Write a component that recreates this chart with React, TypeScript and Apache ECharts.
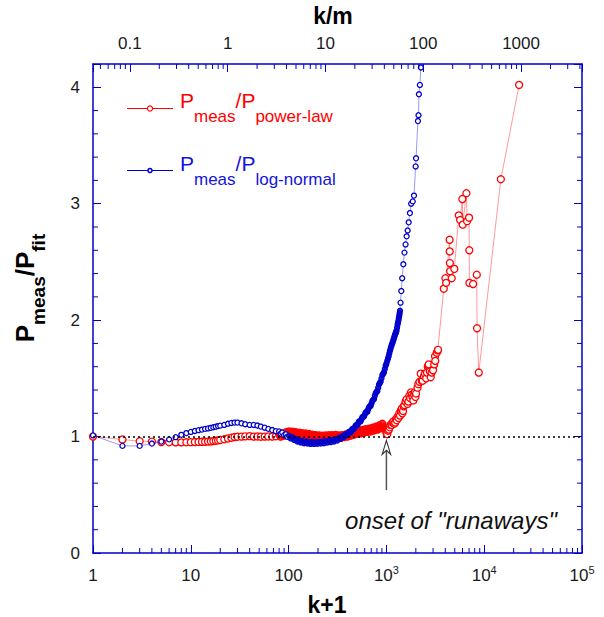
import React, { useEffect, useRef } from 'react';
import * as echarts from 'echarts';

const FONT = '"Liberation Sans", Arial, sans-serif';
const AXIS_BLUE = '#0000CC';
const RED = '#FF0000';
const BLUE = '#0000CC';
const TEXT_DARK = '#1a1a1a';

// Axis ranges
const X_MIN = 1;
const X_MAX = 100000;
const TOP_MIN = 0.042;
const TOP_MAX = 4200;
const Y_MIN = 0;
const Y_MAX = 4.2;

// Tick labels
const xTickValues = [1, 10, 100, 1000, 10000, 100000];
const xTickLabels = ['1', '10', '100', '10^3', '10^4', '10^5'];
const topTickValues = [0.1, 1, 10, 100, 1000];
const topTickLabels = ['0.1', '1', '10', '100', '1000'];
const yTickValues = [0, 1, 2, 3, 4];
const yTickLabels = ['0', '1', '2', '3', '4'];
const minorMultipliers = [2, 3, 4, 5, 6, 7, 8, 9];
const bottomDecades = [1, 10, 100, 1000, 10000];
const topDecades = [0.01, 0.1, 1, 10, 100, 1000];
const yMinorTicks = [0.2, 0.4, 0.6, 0.8, 1.2, 1.4, 1.6, 1.8, 2.2, 2.4, 2.6, 2.8, 3.2, 3.4, 3.6, 3.8];

// Reference line and annotation
const baselineRatio = 1;
const onsetK = 1000;
const arrowFrom = 0.54;
const arrowTo = 0.968;

// Ranges where the measured points are so dense that they merge into a solid band
const redDenseRange = [80, 1000];
const blueDenseRange = [100, 1380];

// P_meas / P_power-law  : [k+1, ratio]
const redPoints: [number, number][] = [
  [1, 1.0], [2, 0.975], [3, 0.96], [4, 0.957], [5, 0.953], [6, 0.951], [7, 0.95], [8, 0.95], [9, 0.951],
  [10, 0.952], [11, 0.953], [12, 0.954], [13, 0.955], [14, 0.956], [15, 0.957], [16, 0.959], [17, 0.961],
  [18, 0.964], [19, 0.967], [20, 0.971], [22, 0.977], [24, 0.984], [26, 0.99], [28, 0.996], [30, 0.999],
  [33, 1.0], [36, 1.002], [40, 1.004], [44, 1.0], [48, 1.001], [52, 0.999], [57, 1.0], [62, 1.001],
  [68, 1.0], [74, 1.003],
  [80, 1.018], [83, 1.0], [86, 1.027], [90, 1.008], [94, 1.037], [97, 1.016], [101, 1.044], [105, 1.022],
  [109, 1.042], [114, 1.018], [118, 1.038], [123, 1.014], [128, 1.034], [133, 1.01], [138, 1.03],
  [144, 1.006], [150, 1.026], [156, 1.003], [162, 1.022], [168, 0.998], [175, 1.016], [182, 0.994],
  [189, 1.012], [197, 0.99], [205, 1.01], [213, 0.988], [221, 1.008], [230, 0.988], [239, 1.01],
  [249, 0.99], [259, 1.012], [269, 0.99], [280, 1.012], [291, 0.992], [303, 1.014], [315, 0.992],
  [328, 1.01], [341, 0.99], [354, 1.012], [368, 0.995], [383, 1.018], [399, 1.0], [415, 1.024],
  [431, 1.008], [448, 1.032], [466, 1.016], [485, 1.048], [504, 1.024], [525, 1.052], [546, 1.028],
  [567, 1.058], [590, 1.034], [614, 1.064], [638, 1.04], [664, 1.068], [690, 1.044], [718, 1.076],
  [747, 1.052], [777, 1.084], [808, 1.06], [840, 1.095], [874, 1.07], [909, 1.11], [945, 1.08],
  [983, 1.06], [1000, 1.03], [1021, 1.02], [1040, 1.05], [1060, 1.06], [1080, 1.08], [1100, 1.1],
  [1132, 1.1], [1155, 1.12], [1180, 1.13], [1205, 1.11], [1230, 1.12], [1255, 1.15], [1275, 1.14],
  [1300, 1.17], [1330, 1.16], [1355, 1.2], [1377, 1.18], [1405, 1.22], [1435, 1.24], [1455, 1.2],
  [1480, 1.22], [1505, 1.26], [1530, 1.27], [1570, 1.3], [1610, 1.32], [1645, 1.28], [1680, 1.3],
  [1715, 1.35], [1750, 1.33], [1785, 1.38], [1820, 1.36], [1850, 1.34], [1885, 1.31], [1915, 1.36],
  [1950, 1.38], [1980, 1.34], [2010, 1.37], [2080, 1.42], [2120, 1.45], [2180, 1.47], [2245, 1.54],
  [2300, 1.48], [2350, 1.48], [2420, 1.52], [2480, 1.54], [2550, 1.5], [2600, 1.55], [2650, 1.6],
  [2690, 1.61], [2710, 1.62], [2780, 1.56], [2840, 1.51], [2900, 1.55], [2980, 1.57], [3000, 1.57],
  [3080, 1.62], [3140, 1.69], [3160, 1.65], [3270, 1.72], [3350, 1.74], [3375, 1.745], [3860, 2.27],
  [4010, 2.36], [4080, 2.32], [4430, 2.69], [4440, 2.59], [4455, 2.49], [4480, 2.42], [4660, 2.36],
  [4950, 2.44], [5495, 2.9], [5670, 2.86], [5980, 3.04], [6030, 2.82], [6580, 3.09], [6680, 2.85],
  [7000, 2.88], [7040, 2.6], [7060, 2.32], [7700, 2.31], [8400, 2.39], [8450, 1.93], [8800, 1.55],
  [14800, 3.21], [22750, 4.02],
];

// P_meas / P_log-normal : [k+1, ratio]
const bluePoints: [number, number][] = [
  [1, 1.01], [2, 0.92], [3, 0.92], [4, 0.94], [5, 0.957], [6, 0.976], [7, 0.995], [8, 1.015], [9, 1.03],
  [10, 1.04], [11, 1.048], [12, 1.055], [13, 1.06], [14, 1.066], [15, 1.07], [16, 1.075], [17, 1.08],
  [18, 1.085], [19, 1.09], [20, 1.094], [22, 1.1], [24, 1.11], [26, 1.117], [28, 1.12], [30, 1.12],
  [33, 1.114], [36, 1.106], [40, 1.1], [44, 1.1], [48, 1.095], [52, 1.086], [57, 1.076], [62, 1.066],
  [68, 1.056], [74, 1.046],
  [80, 1.044], [83, 1.026], [86, 1.034], [90, 1.012], [94, 1.02], [97, 0.998], [101, 1.006], [105, 0.984],
  [109, 0.994], [114, 0.97], [118, 0.98], [123, 0.958], [128, 0.968], [133, 0.949], [138, 0.962],
  [144, 0.943], [150, 0.958], [156, 0.94], [162, 0.955], [168, 0.937], [175, 0.953], [182, 0.937],
  [189, 0.952], [197, 0.938], [205, 0.954], [213, 0.94], [221, 0.957], [230, 0.943], [239, 0.961],
  [249, 0.948], [259, 0.966], [269, 0.952], [280, 0.971], [291, 0.958], [303, 0.978], [315, 0.966],
  [328, 0.99], [341, 0.98], [354, 1.003], [368, 0.996], [383, 1.02], [399, 1.014], [407, 1.03],
  [415, 1.041], [423, 1.04], [431, 1.037], [440, 1.05], [448, 1.066], [457, 1.066], [466, 1.064],
  [476, 1.08], [485, 1.096], [495, 1.098], [504, 1.097], [515, 1.115], [525, 1.13], [536, 1.13],
  [546, 1.132], [557, 1.15], [567, 1.166], [579, 1.17], [590, 1.172], [602, 1.19], [614, 1.208],
  [626, 1.213], [638, 1.212], [651, 1.235], [664, 1.253], [677, 1.26], [690, 1.262], [704, 1.285],
  [718, 1.306], [732, 1.315], [747, 1.322], [762, 1.35], [777, 1.373], [792, 1.382], [808, 1.392],
  [824, 1.42], [840, 1.448], [857, 1.46], [874, 1.472], [891, 1.5], [909, 1.528], [927, 1.54],
  [945, 1.552], [964, 1.58], [983, 1.608], [1000, 1.625], [1020, 1.65], [1038, 1.67], [1055, 1.69],
  [1072, 1.715], [1090, 1.74], [1108, 1.76], [1125, 1.78], [1142, 1.795], [1160, 1.81], [1175, 1.825],
  [1190, 1.84], [1205, 1.855], [1220, 1.87], [1232, 1.88], [1245, 1.89], [1258, 1.9], [1270, 1.91],
  [1285, 1.935], [1300, 1.96], [1315, 1.98], [1330, 2.0], [1342, 2.02], [1355, 2.04], [1366, 2.06],
  [1377, 2.08], [1395, 2.15], [1420, 2.25], [1450, 2.36], [1490, 2.48], [1530, 2.58], [1570, 2.65],
  [1610, 2.72], [1650, 2.77], [1690, 2.84], [1740, 2.92], [1790, 3.0], [1860, 3.02], [1915, 3.07],
  [1990, 3.32], [2010, 3.39], [2100, 3.71], [2130, 3.76], [2150, 3.94], [2200, 4.02], [2250, 4.17],
  [2320, 4.45],
];

const bottomMinor = bottomDecades.flatMap((d) => minorMultipliers.map((m) => d * m));
const topMinor = topDecades
  .flatMap((d) => minorMultipliers.map((m) => +(d * m).toPrecision(6)))
  .filter((v) => v > TOP_MIN && v < TOP_MAX);

const sameLog = (a: number, b: number) => Math.abs(Math.log10(a) - Math.log10(b)) < 1e-6;

const fmtBottom = (v: number) => {
  const i = xTickValues.findIndex((t) => sameLog(t, v));
  if (i < 0) return '';
  const parts = xTickLabels[i].split('^');
  return parts.length > 1 ? `{n|${parts[0]}}{sup|${parts[1]}}` : `{n|${parts[0]}}`;
};
const fmtTop = (v: number) => {
  const i = topTickValues.findIndex((t) => sameLog(t, v));
  return i < 0 ? '' : topTickLabels[i];
};
const fmtY = (v: number) => {
  const i = yTickValues.findIndex((t) => Math.abs(t - v) < 1e-9);
  return i < 0 ? '' : yTickLabels[i];
};

const withDenseFill = (pts: [number, number][], range: number[], fill: string) =>
  pts.map(([k, v]) => (k >= range[0] && k <= range[1] ? { value: [k, v], itemStyle: { color: fill } } : [k, v]));

const legendRich = (color: string) => ({
  p: { fontFamily: FONT, fontSize: 21, lineHeight: 21, padding: [0, 0, 16, 0], fill: color, color },
  s: { fontFamily: FONT, fontSize: 17, lineHeight: 17, padding: [18, 0, 2, 0], fill: color, color },
});

export default function App() {
  const ref = useRef<HTMLDivElement>(null);
  useEffect(() => {
    if (!ref.current) return;
    const chart = echarts.init(ref.current, null, { renderer: 'svg' });
    const axisLine = { show: true, onZero: false, lineStyle: { color: AXIS_BLUE, width: 1.5 } };
    const axisTick = { show: true, inside: true, length: 8, lineStyle: { color: AXIS_BLUE, width: 1 } };
    const option: any = {
      animation: false,
      backgroundColor: '#ffffff',
      grid: { left: 93, right: 22, top: 64, bottom: 64, containLabel: false, outerBoundsMode: 'none' },
      xAxis: [
        {
          type: 'log', logBase: 10, min: X_MIN, max: X_MAX, position: 'bottom',
          axisLine, axisTick, splitLine: { show: false }, minorTick: { show: false },
          axisLabel: {
            show: true, margin: 11, formatter: fmtBottom, fontFamily: FONT, fontSize: 17, color: TEXT_DARK,
            rich: {
              n: { fontFamily: FONT, fontSize: 17, lineHeight: 23, color: TEXT_DARK },
              sup: { fontFamily: FONT, fontSize: 11, lineHeight: 11, padding: [0, 0, 12, 0], color: TEXT_DARK },
            },
          },
        },
        {
          type: 'log', logBase: 10, min: TOP_MIN, max: TOP_MAX, position: 'top',
          axisLine, axisTick, splitLine: { show: false }, minorTick: { show: false },
          axisLabel: { show: true, margin: 12, formatter: fmtTop, fontFamily: FONT, fontSize: 17, color: TEXT_DARK },
        },
      ],
      yAxis: [
        {
          type: 'value', min: Y_MIN, max: Y_MAX, interval: 1, position: 'left',
          axisLine, axisTick, splitLine: { show: false }, minorTick: { show: false },
          axisLabel: { show: true, margin: 13, formatter: fmtY, fontFamily: FONT, fontSize: 17, color: TEXT_DARK },
        },
        {
          type: 'value', min: Y_MIN, max: Y_MAX, interval: 1, position: 'right',
          axisLine, axisTick, splitLine: { show: false }, minorTick: { show: false },
          axisLabel: { show: false },
        },
      ],
      series: [
        {
          name: 'power-law', type: 'line', xAxisIndex: 0, yAxisIndex: 0,
          data: withDenseFill(redPoints, redDenseRange, 'rgba(255,0,0,0.8)'),
          symbol: 'circle', symbolSize: 7, showSymbol: true, silent: true, z: 2, clip: true,
          lineStyle: { color: 'rgba(255,0,0,0.4)', width: 1 },
          itemStyle: { color: '#ffffff', borderColor: RED, borderWidth: 1.3 },
          emphasis: { disabled: true },
          markLine: {
            silent: true, symbol: ['none', 'none'], label: { show: false },
            lineStyle: { color: '#000000', type: [2, 3], width: 1.5 },
            emphasis: { disabled: true },
            data: [{ yAxis: baselineRatio }],
          },
        },
        {
          name: 'log-normal', type: 'line', xAxisIndex: 0, yAxisIndex: 0,
          data: withDenseFill(bluePoints, blueDenseRange, 'rgba(0,0,204,0.8)'),
          symbol: 'circle', symbolSize: 5, showSymbol: true, silent: true, z: 3, clip: true,
          lineStyle: { color: 'rgba(0,0,230,0.4)', width: 1 },
          itemStyle: { color: '#ffffff', borderColor: BLUE, borderWidth: 1.3 },
          emphasis: { disabled: true },
        },
        {
          type: 'custom', xAxisIndex: 0, yAxisIndex: 0, silent: true, z: 5,
          data: bottomMinor.map((v) => [v, 1]),
          renderItem: (params: any, api: any) => {
            const p = api.coord([api.value(0), 1]);
            const cs = params.coordSys;
            const yb = cs.y + cs.height;
            return { type: 'line', shape: { x1: p[0], y1: yb, x2: p[0], y2: yb - 5 }, style: { stroke: AXIS_BLUE, lineWidth: 1 } };
          },
        },
        {
          type: 'custom', xAxisIndex: 1, yAxisIndex: 0, silent: true, z: 5,
          data: topMinor.map((v) => [v, 1]),
          renderItem: (params: any, api: any) => {
            const p = api.coord([api.value(0), 1]);
            const cs = params.coordSys;
            return { type: 'line', shape: { x1: p[0], y1: cs.y, x2: p[0], y2: cs.y + 5 }, style: { stroke: AXIS_BLUE, lineWidth: 1 } };
          },
        },
        {
          type: 'custom', xAxisIndex: 0, yAxisIndex: 0, silent: true, z: 5,
          data: yMinorTicks.map((v) => [1, v]),
          renderItem: (params: any, api: any) => {
            const p = api.coord([1, api.value(1)]);
            const cs = params.coordSys;
            const xr = cs.x + cs.width;
            return {
              type: 'group',
              children: [
                { type: 'line', shape: { x1: cs.x, y1: p[1], x2: cs.x + 5, y2: p[1] }, style: { stroke: AXIS_BLUE, lineWidth: 1 } },
                { type: 'line', shape: { x1: xr, y1: p[1], x2: xr - 5, y2: p[1] }, style: { stroke: AXIS_BLUE, lineWidth: 1 } },
              ],
            };
          },
        },
        {
          type: 'custom', xAxisIndex: 0, yAxisIndex: 0, silent: true, z: 6,
          data: [[onsetK, arrowFrom, arrowTo]],
          renderItem: (params: any, api: any) => {
            const p0 = api.coord([api.value(0), api.value(1)]);
            const p1 = api.coord([api.value(0), api.value(2)]);
            const x = p1[0];
            const y = p1[1];
            return {
              type: 'group',
              children: [
                { type: 'line', shape: { x1: p0[0], y1: p0[1], x2: x, y2: y + 10 }, style: { stroke: '#555555', lineWidth: 1.5 } },
                {
                  type: 'polygon',
                  shape: { points: [[x, y], [x - 4.2, y + 14], [x, y + 10], [x + 4.2, y + 14]] },
                  style: { fill: '#ffffff', stroke: '#333333', lineWidth: 1.1 },
                },
              ],
            };
          },
        },
      ],
      graphic: [
        { type: 'line', shape: { x1: 127, y1: 108.5, x2: 173, y2: 108.5 }, style: { stroke: RED, lineWidth: 1.2 } },
        { type: 'circle', shape: { cx: 150, cy: 108.5, r: 2.6 }, style: { fill: '#ffffff', stroke: RED, lineWidth: 1.2 } },
        {
          type: 'text', x: 180, y: 98,
          style: { text: '{p|P}{s|meas}{p|/P}{s|power-law}', align: 'left', verticalAlign: 'top', fill: RED, rich: legendRich(RED) },
        },
        { type: 'line', shape: { x1: 127, y1: 170.5, x2: 173, y2: 170.5 }, style: { stroke: BLUE, lineWidth: 1.2 } },
        { type: 'circle', shape: { cx: 150, cy: 170.5, r: 2 }, style: { fill: '#ffffff', stroke: BLUE, lineWidth: 1.5 } },
        {
          type: 'text', x: 180, y: 160.5,
          style: { text: '{p|P}{s|meas}{p|/P}{s|log-normal}', align: 'left', verticalAlign: 'top', fill: '#1414DC', rich: legendRich('#1414DC') },
        },
        {
          type: 'text', x: 30, y: 288, rotation: Math.PI / 2,
          style: {
            text: '{p|P}{s|meas}{p|/P}{s|fit}', align: 'center', verticalAlign: 'middle', fill: '#000',
            rich: {
              p: { fontFamily: FONT, fontWeight: 'bold', fontSize: 26, lineHeight: 26, padding: [0, 0, 11, 0], fill: '#000' },
              s: { fontFamily: FONT, fontWeight: 'bold', fontSize: 19, lineHeight: 19, padding: [17, 0, 1, 0], fill: '#000' },
            },
          },
        },
        {
          type: 'text', x: 327, y: 605,
          style: { text: 'k+1', fontFamily: FONT, fontWeight: 'bold', fontSize: 23, fill: '#000', align: 'center', verticalAlign: 'middle' },
        },
        {
          type: 'text', x: 333, y: 16,
          style: { text: 'k/m', fontFamily: FONT, fontWeight: 'bold', fontSize: 23, fill: '#000', align: 'center', verticalAlign: 'middle' },
        },
        {
          type: 'text', x: 451, y: 520,
          style: { text: 'onset of "runaways"', fontFamily: FONT, fontStyle: 'italic', fontSize: 24, fill: '#111111', align: 'center', verticalAlign: 'middle' },
        },
      ],
    };
    chart.setOption(option);
    return () => chart.dispose();
  }, []);
  return (
    <div
      ref={ref}
      style={{ position: 'fixed', left: 0, top: 0, width: 604, height: 617, background: '#ffffff' }}
    />
  );
}
